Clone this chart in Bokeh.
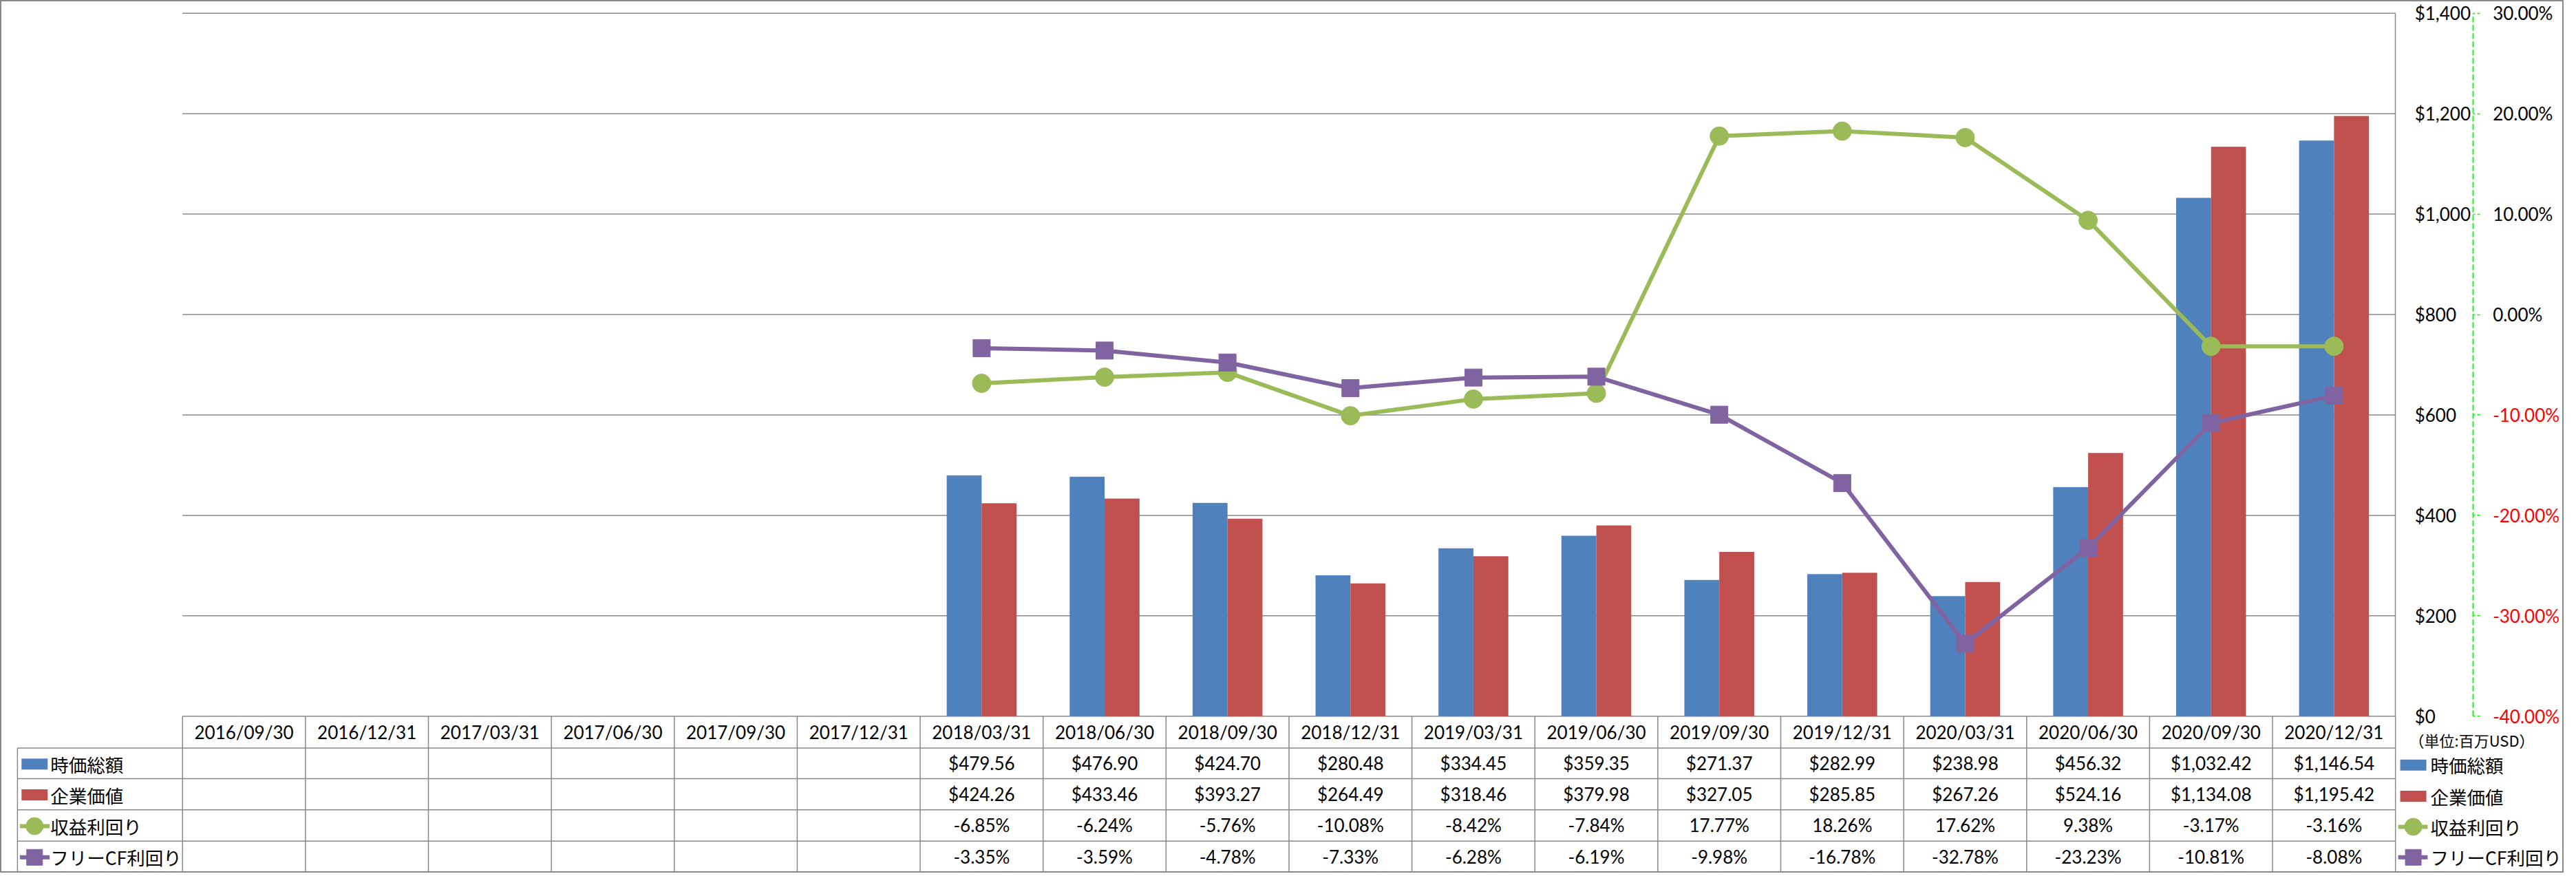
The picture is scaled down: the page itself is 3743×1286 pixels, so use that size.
import math
from bokeh.plotting import figure
from bokeh.models import (Range1d, LinearAxis, FixedTicker, NumeralTickFormatter,
                          PrintfTickFormatter, ColumnDataSource)
from bokeh.transform import dodge
from bokeh.core.properties import value
from bokeh.embed import file_html
from bokeh.resources import INLINE

nan = float("nan")

# ---------------- data ----------------
dates = ["2016/09/30", "2016/12/31", "2017/03/31", "2017/06/30", "2017/09/30", "2017/12/31",
         "2018/03/31", "2018/06/30", "2018/09/30", "2018/12/31", "2019/03/31", "2019/06/30",
         "2019/09/30", "2019/12/31", "2020/03/31", "2020/06/30", "2020/09/30", "2020/12/31"]
market_cap = [nan] * 6 + [479.56, 476.90, 424.70, 280.48, 334.45, 359.35,
                          271.37, 282.99, 238.98, 456.32, 1032.42, 1146.54]
enterprise_value = [nan] * 6 + [424.26, 433.46, 393.27, 264.49, 318.46, 379.98,
                                327.05, 285.85, 267.26, 524.16, 1134.08, 1195.42]
earnings_yield = [nan] * 6 + [-6.85, -6.24, -5.76, -10.08, -8.42, -7.84,
                              17.77, 18.26, 17.62, 9.38, -3.17, -3.16]
fcf_yield = [nan] * 6 + [-3.35, -3.59, -4.78, -7.33, -6.28, -6.19,
                         -9.98, -16.78, -32.78, -23.23, -10.81, -8.08]
series_names = ["時価総額", "企業価値", "収益利回り", "フリーCF利回り"]
usd_ticks = [0, 200, 400, 600, 800, 1000, 1200, 1400]
pct_pos_ticks = [0, 10, 20, 30]
pct_neg_ticks = [-40, -30, -20, -10]
pct_bounds = (-40, 30)
unit_label = "（単位:百万USD）"

# ---------------- style ----------------
BLUE, RED, GREEN, PURPLE = "#4F81BD", "#C0504D", "#9BBB59", "#8064A2"
GRID = "#898989"
LIME = "#00FF00"
NUM_FONT = "Lato"
JP_FONT = "Noto Sans CJK JP"

# ---------------- layout helpers (reference pixel -> data units) ----------------
W, H = 3725, 1268
REF_W, REF_H = 3743, 1286
SX, SY = W / REF_W, H / REF_H
n = len(dates)
col_left_ref, col_right_ref = 266, 3497
col_w = (col_right_ref - col_left_ref) / n * SX
c0 = col_left_ref * SX + col_w / 2


def dx(ref_x):
    return (ref_x * SX - c0) / col_w


top_ref, zero_ref = 19, 1055
y_top, y_zero = top_ref * SY, zero_ref * SY
usd_max = usd_ticks[-1]
ppu = (y_zero - y_top) / usd_max


def dy(ref_y):
    return (y_zero - ref_y * SY) / ppu


def to_pct(yd):
    return pct_bounds[0] + yd * (pct_bounds[1] - pct_bounds[0]) / usd_max


x_range = Range1d(dx(0), dx(REF_W))
y_range = Range1d(dy(REF_H), dy(0))

p = figure(width=W, height=H, x_range=x_range, y_range=y_range,
           output_backend="svg", toolbar_location=None,
           x_axis_location=None, y_axis_location=None)
p.min_border = 0
p.min_border_left = p.min_border_right = p.min_border_top = p.min_border_bottom = 0
p.grid.visible = False
p.outline_line_color = GRID
p.outline_line_width = 3
p.background_fill_color = "white"
p.border_fill_color = "white"
p.extra_y_ranges = {"pct": Range1d(to_pct(dy(REF_H)), to_pct(dy(0)))}

left_edge, right_edge = -0.5, n - 0.5
idx = list(range(n))

# gridlines
p.segment(x0=[left_edge] * len(usd_ticks), x1=[right_edge] * len(usd_ticks),
          y0=usd_ticks, y1=usd_ticks, line_color=GRID, line_width=1.5)

src = ColumnDataSource(dict(idx=idx, mc=market_cap, ev=enterprise_value,
                            ey=earnings_yield, fy=fcf_yield))
bar_w = 51 / 179.5
p.vbar(x=dodge("idx", -bar_w / 2), top="mc", bottom=0, width=bar_w,
       fill_color=BLUE, line_color=None, source=src)
p.vbar(x=dodge("idx", bar_w / 2), top="ev", bottom=0, width=bar_w,
       fill_color=RED, line_color=None, source=src)

p.line("idx", "ey", y_range_name="pct", line_color=GREEN, line_width=6, source=src)
p.scatter("idx", "ey", y_range_name="pct", marker="circle", size=27,
          fill_color=GREEN, line_color=GREEN, source=src)
p.line("idx", "fy", y_range_name="pct", line_color=PURPLE, line_width=6, source=src)
p.scatter("idx", "fy", y_range_name="pct", marker="square", size=25,
          fill_color=PURPLE, line_color=PURPLE, source=src)

# axes
usd_axis = LinearAxis(fixed_location=right_edge, ticker=FixedTicker(ticks=usd_ticks),
                      formatter=NumeralTickFormatter(format="$0,0"), bounds=(0, usd_max))
usd_axis.axis_line_color = GRID
usd_axis.axis_line_width = 1.5
usd_axis.major_tick_line_color = None
usd_axis.major_tick_in = 0
usd_axis.major_tick_out = 0
usd_axis.minor_tick_line_color = None
usd_axis.minor_tick_in = 0
usd_axis.minor_tick_out = 0
usd_axis.major_label_standoff = 28
usd_axis.major_label_text_font = NUM_FONT
usd_axis.major_label_text_font_size = "26px"
usd_axis.major_label_text_color = "black"
p.add_layout(usd_axis, "right")

pct_x = dx(3610)
for ticks, color in ((pct_pos_ticks, "black"), (pct_neg_ticks, "red")):
    ax = LinearAxis(y_range_name="pct", fixed_location=pct_x,
                    ticker=FixedTicker(ticks=ticks),
                    formatter=PrintfTickFormatter(format="%.2f%%"), bounds=pct_bounds)
    ax.axis_line_color = LIME
    ax.axis_line_width = 1.5
    ax.axis_line_dash = "8 4"
    ax.major_tick_line_color = LIME
    ax.major_tick_line_width = 1.5
    ax.major_tick_line_dash = "4 3"
    ax.major_tick_in = 0
    ax.major_tick_out = 10
    ax.minor_tick_line_color = None
    ax.minor_tick_in = 0
    ax.minor_tick_out = 0
    ax.major_label_standoff = 19
    ax.major_label_text_font = NUM_FONT
    ax.major_label_text_font_size = "26px"
    ax.major_label_text_color = color
    p.add_layout(ax, "right")

# ---------------- data table ----------------
header_c_ref = 1078.5
row_c_ref = [1124.5, 1170, 1216, 1262]
row_bounds_ref = [1102, 1147, 1193, 1239]
label_left_ref = 25

# table borders
p.segment(x0=[dx(label_left_ref)] * len(row_bounds_ref), x1=[right_edge] * len(row_bounds_ref),
          y0=[dy(r) for r in row_bounds_ref], y1=[dy(r) for r in row_bounds_ref],
          line_color=GRID, line_width=1.5)
vx = [left_edge + k for k in range(n + 1)]
p.segment(x0=vx, x1=vx, y0=[0] * len(vx), y1=[dy(REF_H)] * len(vx),
          line_color=GRID, line_width=1.5)
p.segment(x0=[dx(label_left_ref)], x1=[dx(label_left_ref)], y0=[dy(row_bounds_ref[0])],
          y1=[dy(REF_H)], line_color=GRID, line_width=1.5)


def fmt_usd(v):
    return "" if math.isnan(v) else f"${v:,.2f}"


def fmt_pct(v):
    return "" if math.isnan(v) else f"{v:.2f}%"


txt_kw = dict(text_align="center", text_baseline="middle", text_color="black",
              text_font=value(NUM_FONT), text_font_size=value("26px"))
p.text(x=idx, y=[dy(header_c_ref)] * n, text=dates, **txt_kw)
rows = [[fmt_usd(v) for v in market_cap], [fmt_usd(v) for v in enterprise_value],
        [fmt_pct(v) for v in earnings_yield], [fmt_pct(v) for v in fcf_yield]]
for rc, texts in zip(row_c_ref, rows):
    p.text(x=idx, y=[dy(rc)] * n, text=texts, **txt_kw)

# legend keys (table left column and right side)
jp_kw = dict(text_align="left", text_baseline="middle", text_color="black",
             text_font=value(JP_FONT), text_font_size=value("26.5px"))


def legend_keys(sw_c, ln_l, ln_r, txt_x, centers):
    ys = [dy(c) for c in centers]
    p.rect(x=[dx(sw_c)] * 2, y=ys[:2], width=38, height=16, width_units="screen",
           height_units="screen", fill_color=[BLUE, RED], line_color=None)
    for yy, col, mk, sz in ((ys[2], GREEN, "circle", 25), (ys[3], PURPLE, "square", 23)):
        p.segment(x0=[dx(ln_l)], x1=[dx(ln_r)], y0=[yy], y1=[yy], line_color=col, line_width=6)
        p.scatter(x=[dx(sw_c)], y=[yy], marker=mk, size=sz, fill_color=col, line_color=col)
    p.text(x=[dx(txt_x)] * 4, y=ys, text=series_names, **jp_kw)


legend_keys(50, 28.5, 72, 73, [c + 1 for c in row_c_ref])
legend_keys(3523, 3501, 3544, 3548, [1127, 1173, 1218, 1263])

p.text(x=[dx(3517)], y=[dy(1090)], text=[unit_label], text_align="left",
       text_baseline="middle", text_color="black", text_font=value(JP_FONT),
       text_font_size=value("22px"))

open("out.html", "w").write(file_html(p, INLINE))
